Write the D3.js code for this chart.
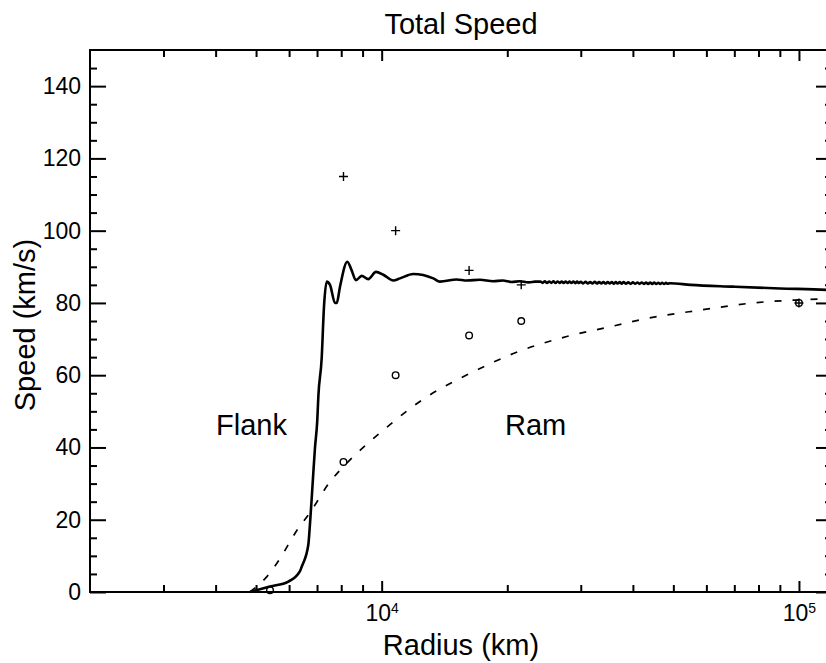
<!DOCTYPE html>
<html>
<head>
<meta charset="utf-8">
<title>Total Speed</title>
<style>
  body { margin: 0; background: #fff; }
  svg { display: block; }
  .axis path { display: none; }
  .axis line { stroke: #000; stroke-width: 2; }
  .axis text { font: 23px "Liberation Sans", Arial, sans-serif; fill: #000; }
  .label { font-family: "Liberation Sans", Arial, sans-serif; font-size: 29px; fill: #000; }
</style>
<script src="https://cdn.jsdelivr.net/npm/d3@7"></script>
</head>
<body>
<script>
// solid curve (radius km, speed km/s)
var solidHeadR = [4835, 5400, 5975, 6372, 6432, 6670, 6734, 6798, 6858, 6922, 7010, 7050, 7182, 7274, 7384, 7520, 7730, 7804, 7946, 8272, 8474, 8678, 8956, 9288, 9692, 10090, 10662, 11064, 11906, 13294, 13794, 15126, 16000, 17200, 18500, 19500, 20500, 21400, 22500, 23300];
var solidHeadV = [0, 1.5, 2.9, 5.8, 7.0, 13, 19, 26, 33, 40, 47.6, 54, 64.7, 79, 85.9, 85, 80, 80, 84.5, 91.4, 89, 86.3, 87.5, 86.6, 88.6, 87.8, 86.2, 86.8, 88.0, 86.8, 85.9, 86.5, 86.2, 86.4, 86.0, 86.2, 85.8, 86.0, 85.7, 85.9];
// small ringing between ~24000 and ~49000 km
var ringR = [24000, 24300, 24600, 24900, 25200, 25500, 25800, 26100, 26400, 26700, 27000, 27300, 27600, 27900, 28200, 28500, 28800, 29100, 29400, 29700, 30000,
  30400, 30800, 31200, 31600, 32000, 32400, 32800, 33200, 33600, 34000, 34400, 34800, 35200, 35600, 36000, 36400, 36800, 37200, 37600, 38000,
  38500, 39000, 39500, 40000, 40500, 41000, 41500, 42000, 42500, 43000, 43500, 44000, 44500, 45000, 45500, 46000, 46500, 47000, 47500, 48000, 48500, 49000];
var ringV = [85.95, 85.55, 85.97, 85.52, 85.93, 85.56, 85.96, 85.5, 85.94, 85.55, 85.92, 85.53, 85.95, 85.5, 85.9, 85.52, 85.93, 85.48, 85.9, 85.5, 85.88,
  85.4, 85.82, 85.38, 85.8, 85.4, 85.83, 85.37, 85.8, 85.39, 85.78, 85.36, 85.8, 85.38, 85.77, 85.35, 85.78, 85.37, 85.75, 85.34, 85.76,
  85.3, 85.7, 85.28, 85.68, 85.3, 85.67, 85.26, 85.66, 85.28, 85.64, 85.25, 85.63, 85.27, 85.62, 85.24, 85.6, 85.25, 85.58, 85.26, 85.55, 85.3, 85.45];
var solidTailR = [55000, 69600, 90000, 116600, 120000];
var solidTailV = [85.0, 84.5, 84.0, 83.6, 83.5];

// dashed curve
var dashR = [4835, 5302, 5604, 6312, 6734, 7520, 8094, 8630, 10090, 12824, 15400, 16890, 20680, 27760, 35260, 42360, 57920, 79200, 98000, 120000];
var dashV = [0, 4.2, 7.9, 17.6, 22, 30.5, 34.7, 37.9, 44.8, 54.0, 59.1, 61.4, 66.0, 70.7, 73.4, 75.5, 78.0, 80.1, 80.8, 81.2];

// point markers
var plusR = [8100, 10800, 16200, 21600, 100000];
var plusV = [115, 100, 89, 85, 80];
var circR = [5400, 8100, 10800, 16200, 21600, 100000];
var circV = [0.5, 36, 60, 71, 75, 80];

var yMajor = [0, 20, 40, 60, 80, 100, 120, 140];
var xMajor = [1e4, 1e5];
var xMinor = [3000, 4000, 5000, 6000, 7000, 8000, 9000, 20000, 30000, 40000, 50000, 60000, 70000, 80000, 90000];

var W = 826, H = 663;
var pL = 90, pR = 832, pT = 50, pB = 592;

var x = d3.scaleLog().domain([2000, 120000]).range([pL, pR]);
var y = d3.scaleLinear().domain([0, 150]).range([pB, pT]);

var yMinor = d3.range(5, 150, 5).filter(function(v) { return v % 20 !== 0; });

var svg = d3.select("body").append("svg")
    .attr("width", W)
    .attr("height", H);

var solid = [];
solidHeadR.forEach(function(r, i) { solid.push([r, solidHeadV[i]]); });
ringR.forEach(function(r, i) { solid.push([r, ringV[i]]); });
solidTailR.forEach(function(r, i) { solid.push([r, solidTailV[i]]); });
var dashed = dashR.map(function(r, i) { return [r, dashV[i]]; });

var line = d3.line()
    .x(function(d) { return x(d[0]); })
    .y(function(d) { return y(d[1]); })
    .curve(d3.curveMonotoneX);

svg.append("path")
    .datum(dashed)
    .attr("d", line)
    .attr("fill", "none")
    .attr("stroke", "#000")
    .attr("stroke-width", 1.7)
    .attr("stroke-dasharray", "7,11");

svg.append("path")
    .datum(solid)
    .attr("d", line)
    .attr("fill", "none")
    .attr("stroke", "#000")
    .attr("stroke-width", 2.6)
    .attr("stroke-linejoin", "round");

// axes, ticks pointing inward on all four sides
svg.append("g").attr("class", "axis")
    .attr("transform", "translate(0," + pB + ")")
    .call(d3.axisBottom(x).tickValues(xMinor).tickSize(-7).tickFormat(""));
var xb = svg.append("g").attr("class", "axis")
    .attr("transform", "translate(0," + pB + ")")
    .call(d3.axisBottom(x).tickValues(xMajor).tickSize(-11).tickPadding(13).tickFormat(""));
xb.selectAll(".tick text").each(function(d) {
    var t = d3.select(this).text("10");
    t.append("tspan")
        .attr("font-size", 14)
        .attr("dy", -8)
        .text(Math.round(Math.log10(d)));
});

svg.append("g").attr("class", "axis")
    .attr("transform", "translate(0," + pT + ")")
    .call(d3.axisTop(x).tickValues(xMinor).tickSize(-7).tickFormat(""));
svg.append("g").attr("class", "axis")
    .attr("transform", "translate(0," + pT + ")")
    .call(d3.axisTop(x).tickValues(xMajor).tickSize(-11).tickFormat(""));

svg.append("g").attr("class", "axis")
    .attr("transform", "translate(" + pL + ",0)")
    .call(d3.axisLeft(y).tickValues(yMinor).tickSize(-7).tickFormat(""));
svg.append("g").attr("class", "axis")
    .attr("transform", "translate(" + pL + ",0)")
    .call(d3.axisLeft(y).tickValues(yMajor).tickSize(-16).tickPadding(9));

svg.append("g").attr("class", "axis")
    .attr("transform", "translate(" + pR + ",0)")
    .call(d3.axisRight(y).tickValues(yMinor).tickSize(-7).tickFormat(""));
svg.append("g").attr("class", "axis")
    .attr("transform", "translate(" + pR + ",0)")
    .call(d3.axisRight(y).tickValues(yMajor).tickSize(-16).tickFormat(""));

svg.append("rect")
    .attr("x", pL).attr("y", pT)
    .attr("width", pR - pL).attr("height", pB - pT)
    .attr("fill", "none").attr("stroke", "#000").attr("stroke-width", 2);

// markers
svg.selectAll(".plus")
    .data(plusR)
    .enter().append("path")
    .attr("class", "plus")
    .attr("d", function(r, i) {
        var cx = x(r), cy = y(plusV[i]);
        return "M" + (cx - 4.5) + "," + cy + "H" + (cx + 4.5) + "M" + cx + "," + (cy - 4.5) + "V" + (cy + 4.5);
    })
    .attr("stroke", "#000")
    .attr("stroke-width", 1.4);

svg.selectAll(".circ")
    .data(circR)
    .enter().append("circle")
    .attr("class", "circ")
    .attr("cx", function(r) { return x(r); })
    .attr("cy", function(r, i) { return y(circV[i]); })
    .attr("r", 3.3)
    .attr("fill", "none")
    .attr("stroke", "#000")
    .attr("stroke-width", 1.4);

// labels
svg.append("text").attr("class", "label")
    .attr("x", (pL + pR) / 2).attr("y", 34)
    .attr("text-anchor", "middle")
    .text("Total Speed");
svg.append("text").attr("class", "label")
    .attr("x", (pL + pR) / 2).attr("y", 655)
    .attr("text-anchor", "middle")
    .text("Radius (km)");
svg.append("text").attr("class", "label")
    .attr("transform", "translate(35," + ((pT + pB) / 2 + 4) + ") rotate(-90)")
    .attr("text-anchor", "middle")
    .text("Speed (km/s)");
svg.append("text").attr("class", "label")
    .attr("x", 216).attr("y", 435)
    .text("Flank");
svg.append("text").attr("class", "label")
    .attr("x", 505).attr("y", 435)
    .text("Ram");
</script>
</body>
</html>
